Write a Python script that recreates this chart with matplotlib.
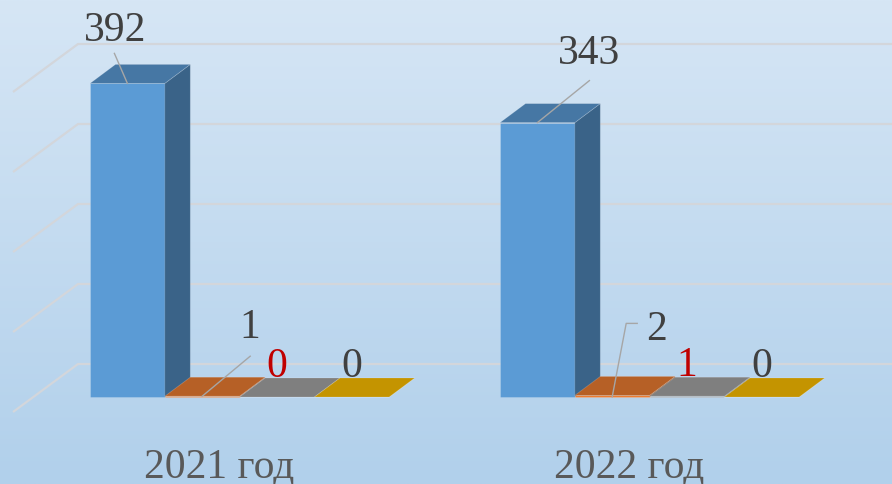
import matplotlib
matplotlib.use("Agg")
import matplotlib.pyplot as plt
import numpy as np
from matplotlib.patches import Polygon
from matplotlib.colors import to_rgb

# ---------------- data ----------------
categories = ["2021 год", "2022 год"]
series1 = [392, 343]
series2 = [1, 2]
series3 = [0, 1]
series4 = [0, 0]
gridline_values = [0, 100, 200, 300, 400]

series = [series1, series2, series3, series4]

# ---------------- style ----------------
front_colors = ["#5B9BD5", "#ED7D31", "#A5A5A5", "#FFC000"]
label_colors = ["#404040", "#404040", "#C00000", "#404040"]
TOP_SHADE = 0.77
SIDE_SHADE = 0.64
FONT = ["Liberation Serif", "DejaVu Serif"]
FS = 30

W, H = 892, 484
fig = plt.figure(figsize=(W / 100, H / 100), dpi=100)
ax = fig.add_axes([0, 0, 1, 1])

PX_X = 74.8   # pixels per x unit (one bar width)
PX_Y = 0.8    # pixels per value unit
X0_PX = 90
Y0_PX = 397
GROUP_STEP = 410 / PX_X


def px(dx, dy):
    """pixel offset (y down) -> data offset"""
    return dx / PX_X, -dy / PX_Y


bar_depth = px(25.5, -19)
floor_front = px(-20.3, 15)
back_wall = px(44.7, -33)
wall_ref_x = (13 - X0_PX) / PX_X - floor_front[0]

xlim = (-X0_PX / PX_X, (W - X0_PX) / PX_X)
ylim = ((Y0_PX - H) / PX_Y, Y0_PX / PX_Y)

# background gradient
grad = np.linspace(0, 1, 256)[:, None]
c_top = np.array(to_rgb("#D6E6F5"))
c_bot = np.array(to_rgb("#B1D0EB"))
img = c_top[None, None, :] * (1 - grad[..., None]) + c_bot[None, None, :] * grad[..., None]
img = np.repeat(img, 2, axis=1)
ax.imshow(img, extent=[0, 1, 0, 1], transform=ax.transAxes, aspect="auto", zorder=0)

# gridlines (side wall + back wall)
grid_col = "#D3D6DB"
for v in gridline_values:
    x_front = wall_ref_x + floor_front[0]
    x_back = wall_ref_x + back_wall[0]
    ax.plot([x_front, x_back, xlim[1]],
            [v + floor_front[1], v + back_wall[1], v + back_wall[1]],
            color=grid_col, lw=1.6, zorder=1, solid_capstyle="butt")

# bars
edge = (1, 1, 1, 0.18)
for i in range(len(categories)):
    for j, s in enumerate(series):
        L = i * GROUP_STEP + j
        R = L + 1
        h = s[i]
        z = 3 + i + j * 0.01
        fc = np.array(to_rgb(front_colors[j]))
        ax.bar(L, h, width=1, align="edge", color=fc, edgecolor=edge, lw=0.6, zorder=z)
        ddx, ddy = bar_depth
        top = Polygon([(L, h), (R, h), (R + ddx, h + ddy), (L + ddx, h + ddy)],
                      closed=True, facecolor=fc * TOP_SHADE, edgecolor=edge, lw=0.6, zorder=z)
        side = Polygon([(R, 0), (R, h), (R + ddx, h + ddy), (R + ddx, ddy)],
                       closed=True, facecolor=fc * SIDE_SHADE, edgecolor=edge, lw=0.6, zorder=z)
        ax.add_patch(side)
        ax.add_patch(top)

# data labels: (text baseline offset in px, leader points in px)
label_layout = {
    (0, 0): ((-12, -42), [(0, 0), (-13, -30)]),
    (1, 0): ((52, -59), [(0, 0), (52, -42)]),
    (0, 1): ((48, -58), [(0, 0), (48, -40)]),
    (1, 1): ((44, -55), [(0, 1.5), (14, -72), (25, -72)]),
}
default_layout = ((0, -20), None)

for i in range(len(categories)):
    for j, s in enumerate(series):
        L = i * GROUP_STEP + j
        h = s[i]
        ax_x, ax_y = L + 0.5, h
        (tdx, tdy), leader = label_layout.get((i, j), default_layout)
        ox, oy = px(tdx, tdy)
        ax.text(ax_x + ox, ax_y + oy, str(h), ha="center", va="baseline",
                fontsize=FS, color=label_colors[j], family=FONT, zorder=20)
        if leader:
            pts = [px(a, b) for a, b in leader]
            ax.plot([ax_x + p[0] for p in pts], [ax_y + p[1] for p in pts],
                    color="#A6A6A6", lw=1.0, zorder=19)

# category labels
for i, cat in enumerate(categories):
    cx = i * GROUP_STEP + len(series) / 2 + floor_front[0]
    cy = floor_front[1] + px(0, 66)[1]
    ax.text(cx, cy, cat, ha="center", va="baseline", fontsize=FS,
            color="#595959", family=FONT, zorder=20)

ax.set_xlim(*xlim)
ax.set_ylim(*ylim)
ax.axis("off")
fig.savefig("out.png", dpi=100)
